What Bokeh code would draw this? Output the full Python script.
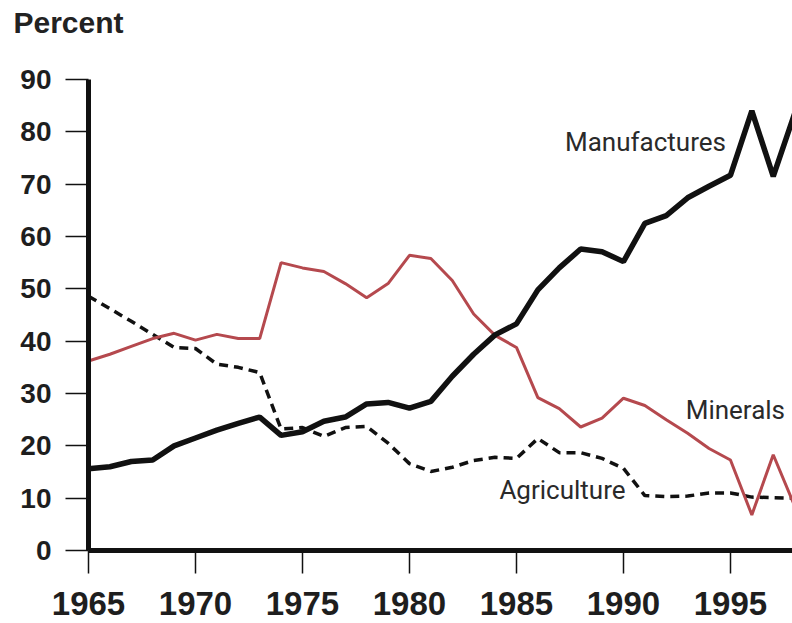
from bokeh.plotting import figure
from bokeh.models import Label, FixedTicker, LinearAxis, Title
from bokeh.embed import file_html
from bokeh.resources import INLINE

years = list(range(1965, 1999))
manufactures = [15.6, 16.0, 17.0, 17.3, 20.0, 21.5, 23.0, 24.3, 25.5, 22.0,
                22.7, 24.7, 25.5, 28.0, 28.3, 27.2, 28.5, 33.3, 37.5, 41.2,
                43.3, 49.8, 54.0, 57.6, 57.1, 55.2, 62.5, 64.0, 67.4, 69.6,
                71.7, 84.0, 71.5, 83.5]
minerals = [36.2, 37.5, 39.0, 40.5, 41.5, 40.2, 41.3, 40.5, 40.5, 55.0,
            54.0, 53.3, 51.0, 48.3, 51.0, 56.4, 55.8, 51.6, 45.2, 41.1,
            38.8, 29.2, 27.1, 23.6, 25.3, 29.1, 27.7, 25.0, 22.4, 19.5,
            17.3, 6.8, 18.3, 8.5]
agriculture = [48.6, 46.2, 43.8, 41.3, 38.8, 38.6, 35.6, 35.0, 34.0, 23.2,
               23.5, 21.8, 23.5, 23.7, 20.5, 16.6, 15.1, 15.9, 17.2, 17.8,
               17.6, 21.4, 18.7, 18.7, 17.6, 15.7, 10.5, 10.3, 10.4, 11.0,
               11.0, 10.2, 10.1, 10.0]

y_ticks = [0, 10, 20, 30, 40, 50, 60, 70, 80, 90]
x_ticks = [1965, 1970, 1975, 1980, 1985, 1990, 1995]

series_labels = ["Manufactures", "Minerals", "Agriculture"]
label_x = [1991.03, 1995.23, 1987.15]
label_y = [78.0, 26.9, 11.5]

title_text = "Percent"

p = figure(width=792, height=623, output_backend="svg", toolbar_location=None,
           x_range=(1965, 1997.9), y_range=(0, 90),
           min_border_left=88, min_border_right=0, min_border_top=79,
           min_border_bottom=73)
p.outline_line_color = None
p.xgrid.grid_line_color = None
p.ygrid.grid_line_color = None
p.background_fill_color = "white"
p.border_fill_color = "white"

xax = p.below[0]
yax = p.left[0]

# invisible spacer between the title and the plot area
spacer = LinearAxis(ticker=FixedTicker(ticks=[1980]), axis_line_color=None,
                    major_tick_line_color="white", major_tick_line_width=1,
                    minor_tick_line_color=None,
                    major_tick_out=41, major_tick_in=0, minor_tick_out=0,
                    major_label_standoff=0, major_label_overrides={1980: ""},
                    major_label_text_color=None, major_label_text_font_size="1px")
title = Title(text=title_text, text_font="Liberation Sans", text_font_style="bold",
              text_font_size="30px", text_color="#222222", align="left",
              offset=-75, standoff=0)
p.above = [spacer, title]

for ax in (xax, yax):
    ax.axis_line_width = 5
    ax.axis_line_color = "#111111"
    ax.major_tick_in = 0
    ax.major_tick_out = 23
    ax.major_tick_line_width = 1.5
    ax.major_tick_line_color = "#111111"
    ax.minor_tick_line_color = None
    ax.major_label_text_font = "Liberation Sans"
    ax.major_label_text_font_style = "bold"
    ax.major_label_text_color = "#1e1e1e"

yax.ticker = FixedTicker(ticks=y_ticks)
yax.major_label_standoff = 14
yax.major_label_text_font_size = "28px"

xax.ticker = FixedTicker(ticks=x_ticks)
xax.major_label_standoff = 18
xax.major_label_text_font_size = "33px"

p.line(years, agriculture, line_color="#111111", line_width=3.5, line_dash="9 6")
p.line(years, minerals, line_color="#b5494e", line_width=3)
p.line(years, manufactures, line_color="#111111", line_width=5.5)

for t, lx, ly in zip(series_labels, label_x, label_y):
    p.add_layout(Label(x=lx, y=ly, text=t, text_font="Roboto",
                       text_font_size="26px", text_color="#2a2a2a",
                       text_align="center", text_baseline="middle"))

open("out.html", "w").write(file_html(p, INLINE))
